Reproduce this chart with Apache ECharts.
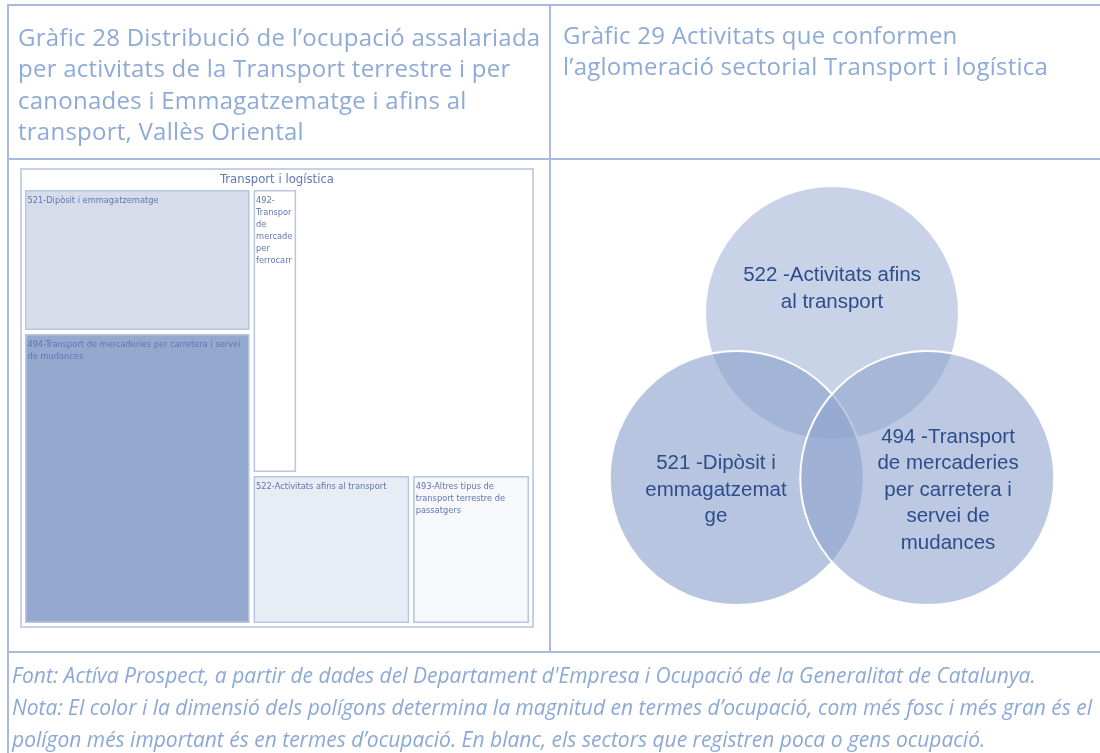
<!DOCTYPE html>
<html>
<head>
<meta charset="utf-8">
<title>Transport i logística</title>
<script src="https://cdn.jsdelivr.net/npm/echarts@6/dist/echarts.min.js"></script>
<style>
    html, body {
        margin: 0;
        padding: 0;
        width: 1100px;
        height: 753px;
        overflow: hidden;
        background: #fff;
    }
    #main {
        position: absolute;
        left: 0;
        top: 0;
        width: 1100px;
        height: 753px;
    }
    .rule {
        position: absolute;
        background: #a9badf;
    }
    .hdr {
        position: absolute;
        font-family: "Open Sans", Lato, sans-serif;
        font-size: 24px;
        letter-spacing: 0.25px;
        line-height: 31.3px;
        color: #8eaad7;
        white-space: nowrap;
    }
    .note {
        position: absolute;
        left: 12px;
        font-family: "Open Sans", Lato, sans-serif;
        font-style: italic;
        font-size: 21px;
        line-height: 32px;
        color: #8ca8d6;
        white-space: nowrap;
    }
</style>
</head>
<body>
<div id="main"></div>

<!-- table lines -->
<div class="rule" style="left:7px;top:4px;width:1093px;height:2px"></div>
<div class="rule" style="left:7px;top:4px;width:2px;height:749px"></div>
<div class="rule" style="left:7px;top:158px;width:1093px;height:2px"></div>
<div class="rule" style="left:549px;top:4px;width:2px;height:648px"></div>
<div class="rule" style="left:7px;top:651px;width:1093px;height:2px"></div>

<div class="hdr" style="left:18px;top:21px">Gràfic 28 Distribució de l’ocupació assalariada<br>per activitats de la Transport terrestre i per<br>canonades i Emmagatzematge i afins al<br>transport, Vallès Oriental</div>
<div class="hdr" style="left:563px;top:19px">Gràfic 29 Activitats que conformen<br>l’aglomeració sectorial Transport i logística</div>

<div class="note" style="top:659px">Font: Actíva Prospect, a partir de dades del Departament d'Empresa i Ocupació de la Generalitat de Catalunya.</div>
<div class="note" style="top:691px">Nota: El color i la dimensió dels polígons determina la magnitud en termes d’ocupació, com més fosc i més gran és el</div>
<div class="note" style="top:723px">polígon més important és en termes d’ocupació. En blanc, els sectors que registren poca o gens ocupació.</div>

<script>
    // treemap (Gràfic 28) - order kept as in the original layout
    var tmRoot = 'Transport i logística';
    var tmNames = [
        '521-Dipòsit i emmagatzematge',
        '494-Transport de mercaderies per carretera i servei de mudances',
        '492-Transport de mercaderies per ferrocarril',
        '',
        '522-Activitats afins al transport',
        '493-Altres tipus de transport terrestre de passatgers'
    ];
    // relative occupation, read from the area of each box
    var tmValues = [329, 670, 133, 666, 241, 181];
    var tmFill = ['#d6dcea', '#95a9cf', '#ffffff', '#ffffff', '#e8ecf5', '#f6f8fc'];

    // venn (Gràfic 29)
    var vennSets = [
        '522 -Activitats afins\nal transport',
        '521 -Dipòsit i\nemmagatzemat\nge',
        '494 -Transport\nde mercaderies\nper carretera i\nservei de\nmudances'
    ];
    var vennFill = ['rgba(143,164,206,0.48)', 'rgba(143,164,206,0.64)', 'rgba(143,164,206,0.59)'];

    var VENN_R = 127, VENN_D = 110, TEXT_D = 134;
    var VENN_CX = 281, VENN_CY = 263;
    var angles = [-90, 150, 30];

    var circleData = [], textData = [];
    angles.forEach(function (a, i) {
        var rad = a * Math.PI / 180;
        circleData.push([VENN_CX + VENN_D * Math.cos(rad), VENN_CY + VENN_D * Math.sin(rad), i]);
        textData.push([VENN_CX + TEXT_D * Math.cos(rad), VENN_CY + TEXT_D * Math.sin(rad), i]);
    });

    var labelFont = '"Liberation Sans Narrow", "DejaVu Sans Condensed", sans-serif';

    var tmChildren = tmNames.map(function (n, i) {
        var item = {name: n, value: tmValues[i], itemStyle: {color: tmFill[i]}};
        if (n === '') {
            item.itemStyle.borderColor = '#ffffff';
        }
        // narrow box: one word per line, cut at the edge
        if (i === 2) {
            item.label = {
                overflow: 'truncate',
                ellipsis: '',
                formatter: function (p) {
                    return p.name.replace('-', '-\n').replace(/ /g, '\n');
                }
            };
        }
        return item;
    });

    var chart = echarts.init(document.getElementById('main'));
    chart.setOption({
        animation: false,
        grid: {left: 551, top: 160, width: 549, height: 492},
        xAxis: {type: 'value', min: 0, max: 549, show: false},
        yAxis: {type: 'value', min: 0, max: 492, inverse: true, show: false},
        series: [
            {
                type: 'treemap',
                left: 20,
                top: 168,
                width: 514,
                height: 460,
                sort: false,
                roam: false,
                nodeClick: false,
                breadcrumb: {show: false},
                silent: true,
                levels: [
                    {
                        itemStyle: {borderWidth: 2, borderColor: '#c6d1e8', color: '#fff', gapWidth: 0}
                    },
                    {
                        itemStyle: {borderWidth: 3, borderColor: '#fff', color: '#fff', gapWidth: 4},
                        upperLabel: {
                            show: true,
                            height: 20,
                            position: 'inside',
                            color: '#6078b3',
                            fontSize: 13,
                            fontFamily: labelFont
                        }
                    },
                    {
                        itemStyle: {borderWidth: 1.5, borderColor: '#b9c6e1', gapWidth: 0},
                        label: {
                            show: true,
                            position: 'insideTopLeft',
                            color: '#5f77b2',
                            fontSize: 9.2,
                            lineHeight: 12,
                            fontFamily: labelFont,
                            overflow: 'break',
                            padding: [3, 1]
                        }
                    }
                ],
                data: [{name: tmRoot, children: tmChildren}]
            },
            {
                type: 'custom',
                coordinateSystem: 'cartesian2d',
                silent: true,
                clip: false,
                data: circleData,
                renderItem: function (params, api) {
                    var c = api.coord([api.value(0), api.value(1)]);
                    var r = api.size([VENN_R, 0])[0];
                    return {
                        type: 'circle',
                        shape: {cx: c[0], cy: c[1], r: r},
                        style: {fill: vennFill[params.dataIndex], stroke: '#ffffff', lineWidth: 2}
                    };
                }
            },
            {
                type: 'custom',
                coordinateSystem: 'cartesian2d',
                silent: true,
                clip: false,
                data: textData,
                renderItem: function (params, api) {
                    var c = api.coord([api.value(0), api.value(1)]);
                    return {
                        type: 'text',
                        x: c[0],
                        y: c[1],
                        style: {
                            text: vennSets[params.dataIndex],
                            align: 'center',
                            verticalAlign: 'middle',
                            fontSize: 20.5,
                            lineHeight: 26.5,
                            fontFamily: '"Liberation Sans", Arial, sans-serif',
                            fill: '#2f4c8b'
                        }
                    };
                }
            }
        ]
    });
</script>
</body>
</html>
